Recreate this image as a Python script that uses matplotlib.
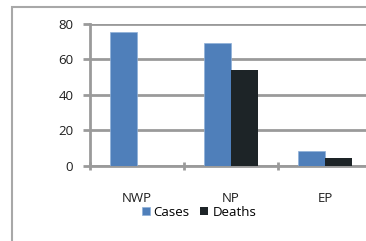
import numpy as np
import matplotlib.pyplot as plt
from matplotlib.patches import Rectangle

categories = ["NWP", "NP", "EP"]
cases = [75.5, 69.5, 8.3]
deaths = [0, 54, 4.5]

BLUE = "#4F7FBA"
DARK = "#1D2427"
GRID = "#9A9A9A"
TEXT = "#1E1E1E"

plt.rcParams["font.family"] = ["Open Sans", "DejaVu Sans"]

W, H = 366, 241
fig = plt.figure(figsize=(W / 100, H / 100), dpi=100)

# outer chart border (runs off the right/bottom edge)
fig.add_artist(Rectangle((12 / W, -0.1), 1.2, (H - 7) / H + 0.1,
                         transform=fig.transFigure, fill=False,
                         edgecolor="#A8A8A8", linewidth=1.5))

ax = fig.add_axes([90 / W, 75.3 / H, 282 / W, 141.7 / H])
x = np.arange(len(categories))
bw = 0.29
ax.bar(x - bw / 2, cases, bw, color=BLUE, edgecolor="#8FB0D8", linewidth=0.5,
       zorder=3, label="Cases")
ax.bar(x + bw / 2, deaths, bw, color=DARK, zorder=3, label="Deaths")

ax.set_xlim(-0.5, 2.5)
ax.set_ylim(0, 80)
ax.set_yticks([0, 20, 40, 60, 80])
ax.yaxis.grid(True, color=GRID, linewidth=2.0, zorder=0)
ax.set_axisbelow(True)

for s in ["top", "right"]:
    ax.spines[s].set_visible(False)
for s in ["left", "bottom"]:
    ax.spines[s].set_color(GRID)
    ax.spines[s].set_linewidth(2.0)

ax.set_xticks([-0.5, 0.5, 1.5, 2.5])
ax.set_xticklabels([])
ax.tick_params(axis="x", which="major", length=6, width=2.0, color=GRID,
               direction="inout")
ax.set_xticks(x, minor=True)
ax.set_xticklabels(categories, minor=True)
ax.tick_params(axis="x", which="minor", length=0, pad=19, labelsize=9.5,
               labelcolor=TEXT)
ax.tick_params(axis="y", length=5, width=2.0, color=GRID, labelsize=9.5,
               labelcolor=TEXT, pad=7)

ax.legend(loc="center", bbox_to_anchor=(199 / W, 1 - 212 / H),
          bbox_transform=fig.transFigure, ncol=2, frameon=False,
          fontsize=9.5, handlelength=0.6, handleheight=0.6,
          handletextpad=0.3, columnspacing=0.8, borderpad=0)

fig.savefig("out.png", dpi=100)
